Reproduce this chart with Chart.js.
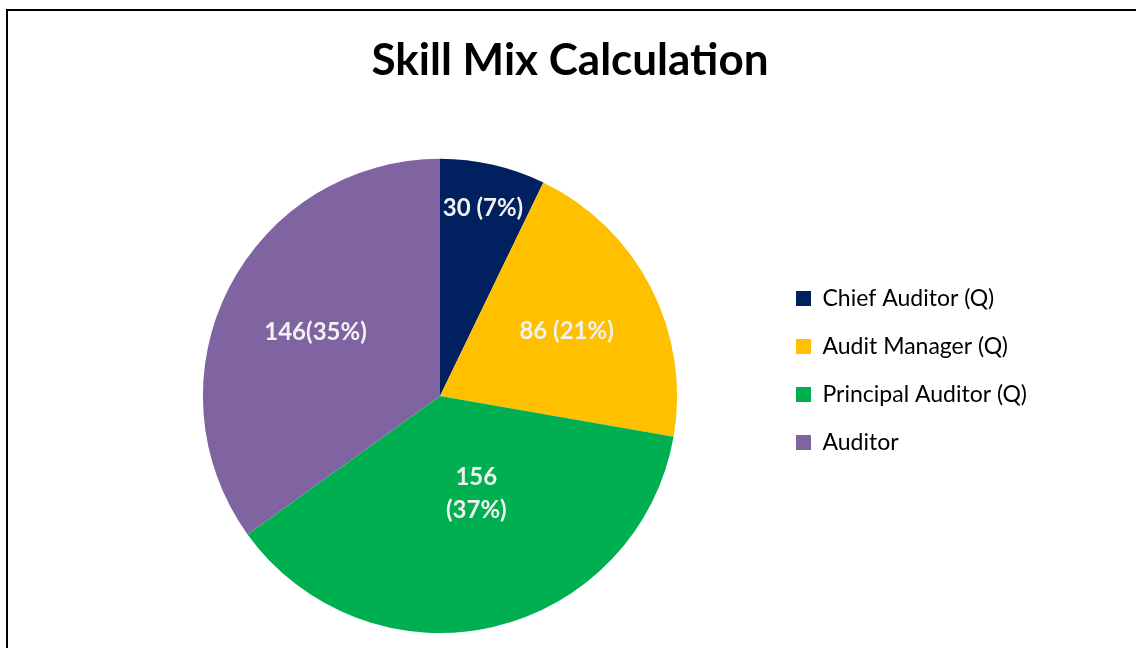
<!DOCTYPE html>
<html>
<head>
<meta charset="utf-8">
<script src="https://cdn.jsdelivr.net/npm/chart.js@4"></script>
<style>
    body { margin: 0; background: #fff; }
    #frame {
        position: absolute;
        left: 6px;
        top: 9px;
        width: 1130px;
        height: 639px;
        border-left: 2px solid #000;
        border-top: 2px solid #000;
    }
    canvas { display: block; }
</style>
</head>
<body>
<div id="frame"><canvas id="skillChart" width="1128" height="637"></canvas></div>
<script>
// Данные диаграммы
const categories = ['Chief Auditor (Q)', 'Audit Manager (Q)', 'Principal Auditor (Q)', 'Auditor'];
const headcount = [30, 86, 156, 146];
const sliceLabels = [['30 (7%)'], ['86 (21%)'], ['156', '(37%)'], ['146(35%)']];
const sliceColors = ['#002060', '#FFC000', '#00B050', '#8064A2'];

// где ставить подписи внутри секторов (доля радиуса)
const labelRadius = [0.81, 0.6, 0.44, 0.59];
const labelAngleShift = [0, 0, -0.13, 0];

const fontName = 'Lato, "Open Sans", sans-serif';

// Подписи на секторах
const sliceLabelPlugin = {
    id: 'sliceLabels',
    afterDatasetsDraw(chart) {
        const ctx = chart.ctx;
        const meta = chart.getDatasetMeta(0);
        ctx.save();
        ctx.font = 'bold 24px ' + fontName;
        ctx.fillStyle = '#f2f2f2';
        ctx.textAlign = 'center';
        ctx.textBaseline = 'middle';
        meta.data.forEach((arc, i) => {
            const p = arc.getProps(['x', 'y', 'startAngle', 'endAngle', 'outerRadius'], true);
            const mid = (p.startAngle + p.endAngle) / 2 + labelAngleShift[i];
            const r = p.outerRadius * labelRadius[i];
            const cx = p.x + Math.cos(mid) * r;
            const cy = p.y + Math.sin(mid) * r;
            const lines = sliceLabels[i];
            const lh = 33;
            lines.forEach((line, k) => {
                ctx.fillText(line, cx, cy + (k - (lines.length - 1) / 2) * lh);
            });
        });
        ctx.restore();
    }
};

const ctx = document.getElementById('skillChart').getContext('2d');
new Chart(ctx, {
    type: 'pie',
    data: {
        labels: categories,
        datasets: [{
            data: headcount,
            backgroundColor: sliceColors,
            borderWidth: 0
        }]
    },
    options: {
        responsive: false,
        animation: false,
        layout: {
            padding: { left: 101, right: 105, top: 0, bottom: 15 }
        },
        plugins: {
            title: {
                display: true,
                text: 'Skill Mix Calculation',
                color: '#000',
                font: { family: fontName, size: 44, weight: 'bold', lineHeight: 1.2 },
                padding: { top: 23, bottom: 72 }
            },
            legend: {
                position: 'right',
                align: 'start',
                maxWidth: 260,
                title: {
                    display: true,
                    text: ' ',
                    font: { size: 10, lineHeight: 1.2 },
                    padding: { top: 0, bottom: 239 }
                },
                labels: {
                    color: '#000',
                    font: { family: fontName, size: 23 },
                    boxWidth: 15,
                    boxHeight: 15,
                    padding: 25
                }
            },
            tooltip: { enabled: false }
        }
    },
    plugins: [sliceLabelPlugin]
});
</script>
</body>
</html>
